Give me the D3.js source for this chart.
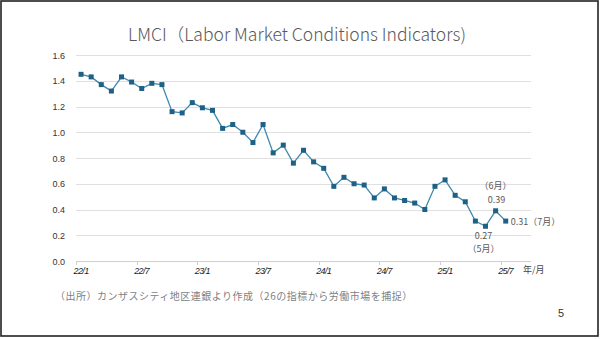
<!DOCTYPE html>
<html><head><meta charset="utf-8">
<script src="https://cdn.jsdelivr.net/npm/d3@7/dist/d3.min.js"></script>
<style>body{margin:0;background:#fff}svg{display:block}</style>
</head><body>
<svg id="c" width="600" height="339"></svg>
<script>
const months = ["22/1","22/2","22/3","22/4","22/5","22/6","22/7","22/8","22/9","22/10","22/11","22/12",
"23/1","23/2","23/3","23/4","23/5","23/6","23/7","23/8","23/9","23/10","23/11","23/12",
"24/1","24/2","24/3","24/4","24/5","24/6","24/7","24/8","24/9","24/10","24/11","24/12",
"25/1","25/2","25/3","25/4","25/5","25/6","25/7","25/8","25/9"];
const lmci = [1.45,1.43,1.37,1.32,1.43,1.39,1.34,1.38,1.37,1.16,1.15,1.23,
1.19,1.17,1.03,1.06,1.00,0.92,1.06,0.84,0.90,0.76,0.86,0.77,
0.72,0.58,0.65,0.60,0.59,0.49,0.56,0.49,0.47,0.45,0.40,0.58,
0.63,0.51,0.46,0.31,0.27,0.39,0.31];
const xTickLabels = ["22/1","22/7","23/1","23/7","24/1","24/7","25/1","25/7"];
const yTicks = [0,0.2,0.4,0.6,0.8,1.0,1.2,1.4,1.6];
const title = "LMCI（Labor Market Conditions Indicators)";
const source = "（出所）カンザスシティ地区連銀より作成（26の指標から労働市場を捕捉）";
const annotations = [
  {month:"25/5", lines:["0.27","（5月）"], pos:"below"},
  {month:"25/6", lines:["（6月）","0.39"], pos:"above"},
  {month:"25/7", lines:["0.31（7月）"], pos:"right"}
];

const svg = d3.select("#c");
const font = "'Liberation Sans', Arial, sans-serif";
const jp = "'Noto Sans CJK JP', sans-serif";

svg.append("rect").attr("x",1).attr("y",1).attr("width",597).attr("height",335)
  .attr("fill","#fff").attr("stroke","#222").attr("stroke-width",1.6);

const x = d3.scaleBand().domain(months).range([76,531]).padding(0);
const y = d3.scaleLinear().domain([0,1.6]).range([261,55]);
const cx = m => x(m) + x.bandwidth()/2;

// grid
svg.append("g").selectAll("line").data(yTicks).join("line")
  .attr("x1",76).attr("x2",531).attr("y1",d=>Math.round(y(d))+0.5).attr("y2",d=>Math.round(y(d))+0.5)
  .attr("stroke",d=>d===0?"#cfcfcf":"#e0e0e0").attr("stroke-width",1);

// y labels
svg.append("g").selectAll("text").data(yTicks).join("text")
  .attr("x",65).attr("y",d=>y(d)+3.5).attr("text-anchor","end")
  .attr("font-family",font).attr("font-size",9).attr("fill","#333")
  .text(d=>d3.format(".1f")(d));

// x ticks and labels
svg.append("g").selectAll("line").data(xTickLabels).join("line")
  .attr("x1",d=>Math.round(x(d))+0.5).attr("x2",d=>Math.round(x(d))+0.5)
  .attr("y1",261).attr("y2",265).attr("stroke","#cfcfcf");
svg.append("g").selectAll("text").data(xTickLabels).join("text")
  .attr("x",d=>cx(d)).attr("y",274).attr("text-anchor","middle")
  .attr("font-family",font).attr("font-size",9).attr("font-style","italic")
  .attr("letter-spacing",-0.6).attr("fill","#222").text(d=>d);
svg.append("text").attr("x",523).attr("y",273).attr("font-family",jp)
  .attr("font-size",9).attr("fill","#444").text("年/月");

// line
const pts = lmci.map((v,i)=>({m:months[i],v}));
svg.append("path").datum(pts)
  .attr("d",d3.line().x(d=>cx(d.m)).y(d=>y(d.v)))
  .attr("fill","none").attr("stroke","#3f88ab").attr("stroke-width",1.3);
svg.append("g").selectAll("rect").data(pts).join("rect")
  .attr("x",d=>cx(d.m)-2.5).attr("y",d=>y(d.v)-2.5).attr("width",5).attr("height",5)
  .attr("fill","#1d6187");

// annotations
annotations.forEach(a=>{
  const v = lmci[months.indexOf(a.month)];
  const px = cx(a.month), py = y(v);
  const t = svg.append("text").attr("font-family",jp).attr("font-size",9).attr("fill","#595959");
  if(a.pos==="right"){
    t.attr("x",px+5).attr("y",py+4).text(a.lines[0]);
  } else if(a.pos==="above"){
    t.attr("text-anchor","middle");
    t.append("tspan").attr("x",px).attr("y",py-22).text(a.lines[0]);
    t.append("tspan").attr("x",px+1).attr("y",py-8).text(a.lines[1]);
  } else {
    t.attr("text-anchor","middle");
    t.append("tspan").attr("x",px-2).attr("y",py+13).text(a.lines[0]);
    t.append("tspan").attr("x",px-2).attr("y",py+25.5).text(a.lines[1]);
  }
});

// title
svg.append("text").attr("x",297).attr("y",41).attr("text-anchor","middle")
  .attr("font-family",jp).attr("font-size",17.5).attr("font-weight",300).attr("fill","#595959").text(title);

// source
svg.append("text").attr("x",55).attr("y",300).attr("font-family",jp)
  .attr("font-size",10).attr("letter-spacing",0.5).attr("fill","#7f7f7f").text(source);

svg.append("text").attr("x",558).attr("y",317).attr("font-family",font)
  .attr("font-size",11).attr("fill","#333").text("5");
</script>
</body></html>
